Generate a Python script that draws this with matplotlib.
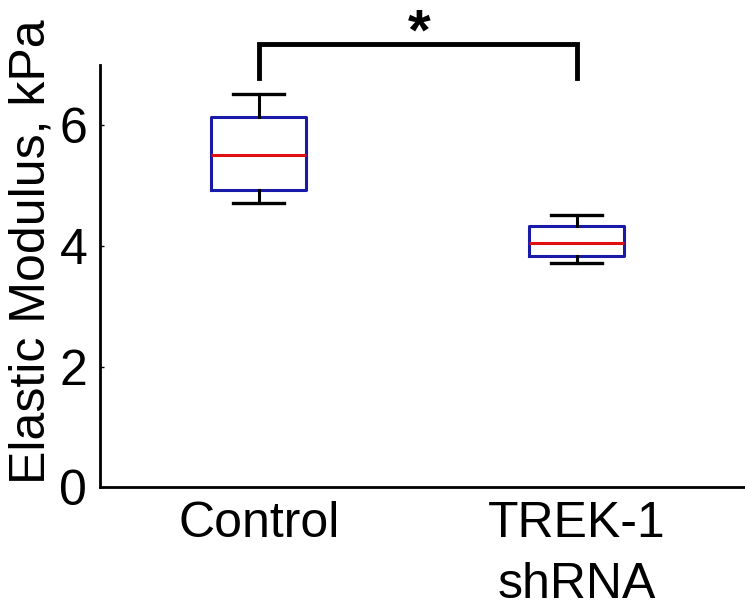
import matplotlib.pyplot as plt

plt.rcParams['font.family'] = ['Liberation Sans', 'DejaVu Sans']

# box statistics (kPa)
groups = ['Control', 'TREK-1\nshRNA']
medians = [5.50, 4.05]
q1 = [4.93, 3.83]
q3 = [6.13, 4.33]
whislo = [4.72, 3.72]
whishi = [6.52, 4.52]

stats = []
for i in range(len(groups)):
    stats.append({'med': medians[i], 'q1': q1[i], 'q3': q3[i],
                  'whislo': whislo[i], 'whishi': whishi[i], 'label': groups[i]})

fig = plt.figure(figsize=(7.45, 6.13), dpi=100)
ax = fig.add_axes([0.134, 0.205, 0.866, 0.689])

ax.bxp(stats, positions=[1, 2], widths=0.30, showfliers=False,
       boxprops=dict(color='#1a1aa8', linewidth=2.2),
       medianprops=dict(color='#e01010', linewidth=2.2),
       whiskerprops=dict(color='black', linewidth=2.2),
       capprops=dict(color='black', linewidth=2.4), capwidths=0.16)

ax.set_xlim(0.5, 2.53)
ax.set_ylim(0, 7)
ax.set_yticks([0, 2, 4, 6])
ax.set_ylabel('Elastic Modulus, kPa', fontsize=36, va='baseline')
ax.yaxis.set_label_coords(-0.085, 0.558)
ax.tick_params(axis='both', labelsize=36)
ax.tick_params(axis='y', direction='in', length=3, width=1, pad=9)
ax.tick_params(axis='x', length=0, pad=10)
for lab in ax.get_xticklabels():
    lab.set_linespacing(1.4)
ax.spines['top'].set_visible(False)
ax.spines['right'].set_visible(False)
ax.spines['left'].set_linewidth(2)
ax.spines['bottom'].set_linewidth(2)

# significance bracket
ax.plot([1, 1, 2, 2], [6.79, 7.355, 7.355, 6.79], color='black', linewidth=3.5,
        clip_on=False, solid_joinstyle='miter')
ax.text(1.505, 7.51, '*', ha='center', va='center', fontsize=42,
        fontweight='bold', clip_on=False)

fig.savefig('out.png', dpi=100)
